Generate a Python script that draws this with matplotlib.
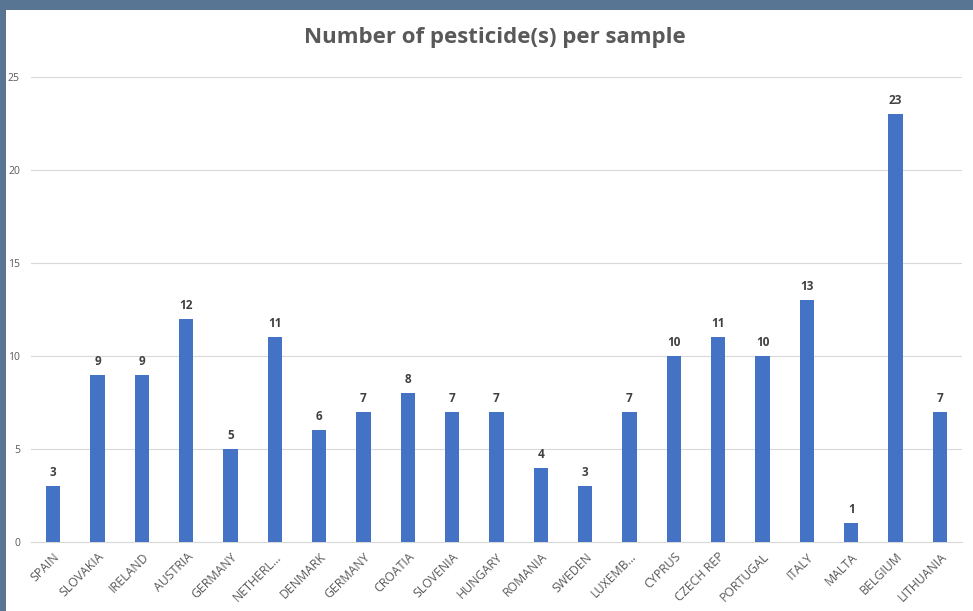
import matplotlib
matplotlib.use("Agg")
import matplotlib.pyplot as plt
from matplotlib.patches import Rectangle

countries = ["SPAIN", "SLOVAKIA", "IRELAND", "AUSTRIA", "GERMANY", "NETHERL...",
             "DENMARK", "GERMANY", "CROATIA", "SLOVENIA", "HUNGARY", "ROMANIA",
             "SWEDEN", "LUXEMB...", "CYPRUS", "CZECH REP", "PORTUGAL", "ITALY",
             "MALTA", "BELGIUM", "LITHUANIA"]
values = [3, 9, 9, 12, 5, 11, 6, 7, 8, 7, 7, 4, 3, 7, 10, 11, 10, 13, 1, 23, 7]
yticks = [0, 5, 10, 15, 20, 25]

W, H = 973, 611
fig = plt.figure(figsize=(W / 100, H / 100), dpi=100)
fig.patch.set_facecolor("#587594")
bg = Rectangle((6 / W, 0), 1 - 6 / W, 1 - 10 / H, transform=fig.transFigure,
               facecolor="white", edgecolor="none", zorder=-10)
fig.add_artist(bg)

ax = fig.add_axes([31 / W, 1 - 542 / H, (962 - 31) / W, (542 - 77) / H])
ax.set_facecolor("none")
x = list(range(len(countries)))
ax.bar(x, values, width=0.32, color="#4472C4", zorder=3)
ax.set_xlim(-0.5, len(countries) - 0.5)
ax.set_ylim(0, 25)
ax.set_yticks(yticks)
ax.set_yticklabels([str(t) for t in yticks], fontsize=7.5, color="#595959",
                   family="Open Sans")
ax.tick_params(axis="y", length=0, pad=8)
ax.tick_params(axis="x", length=0, pad=6)
ax.set_xticks(x)
ax.set_xticklabels(countries, rotation=45, ha="right", va="top",
                   rotation_mode="anchor", fontsize=8.8, color="#595959",
                   family="Open Sans")
ax.grid(axis="y", color="#d9d9d9", linewidth=0.8, zorder=0)
for s in ["top", "right", "left"]:
    ax.spines[s].set_visible(False)
ax.spines["bottom"].set_color("#d9d9d9")
ax.spines["bottom"].set_linewidth(0.8)

for xi, v in zip(x, values):
    ax.annotate(str(v), (xi, v), xytext=(0, 5), textcoords="offset points",
                ha="center", va="bottom", fontsize=8.5, fontweight="bold",
                color="#404040", family="Open Sans")

fig.text(495 / W, 1 - 38 / H, "Number of pesticide(s) per sample",
         ha="center", va="center", fontsize=16, fontweight="bold",
         color="#595959", family="Open Sans")

fig.savefig("out.png", dpi=100, facecolor=fig.get_facecolor())
